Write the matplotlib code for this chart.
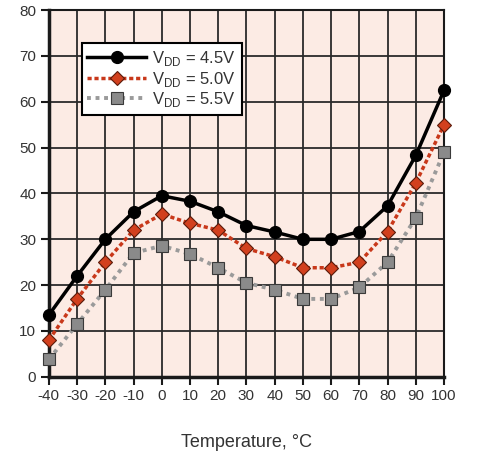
import matplotlib
matplotlib.use("Agg")
import matplotlib.pyplot as plt

# temperature in degC
temps = [-40, -30, -20, -10, 0, 10, 20, 30, 40, 50, 60, 70, 80, 90, 100]

# one series per supply voltage
vdd_45 = [13.5, 22, 30, 36, 39.5, 38.3, 36, 33, 31.6, 30, 30, 31.7, 37.3, 48.3, 62.5]
vdd_50 = [8, 17, 25, 32, 35.5, 33.5, 32, 28, 26.2, 23.8, 23.8, 25, 31.7, 42.3, 55]
vdd_55 = [3.8, 11.5, 19, 27, 28.6, 26.8, 23.8, 20.5, 19, 17, 17, 19.5, 25, 34.7, 49]

labels = ["V$_\\mathregular{DD}$ = 4.5V", "V$_\\mathregular{DD}$ = 5.0V", "V$_\\mathregular{DD}$ = 5.5V"]
y_ticks = [0, 10, 20, 30, 40, 50, 60, 70, 80]

plt.rcParams['font.family'] = ['Liberation Sans', 'DejaVu Sans']
text_col = '#333333'

fig = plt.figure(figsize=(4.79, 4.59), dpi=100)
ax = fig.add_axes([0.102, 0.179, 0.825, 0.799])
ax.set_facecolor('#fcebe4')

ax.set_xlim(-40, 100)
ax.set_ylim(0, 80)
ax.set_xticks(temps)
ax.set_yticks(y_ticks)
ax.grid(True, color='#2a2a2a', linewidth=1.3)
ax.set_axisbelow(True)

for side in ['left', 'bottom', 'right', 'top']:
    ax.spines[side].set_color('#1a1a1a')
    ax.spines[side].set_linewidth(1.5)
ax.spines['left'].set_linewidth(2.5)
ax.spines['bottom'].set_linewidth(2.5)

ax.tick_params(direction='out', length=6, width=1.5, colors='#1a1a1a',
               labelsize=11, labelcolor=text_col, pad=3)
ax.set_xticklabels([str(t) for t in temps])
ax.set_xlabel('Temperature, °C', fontsize=13, color=text_col, labelpad=22)

ax.plot(temps, vdd_45, '-', color='black', linewidth=2.5, marker='o',
        markersize=8.5, markerfacecolor='black', markeredgecolor='black',
        label=labels[0], clip_on=False, zorder=5)
ax.plot(temps, vdd_50, linestyle=(0, (1.2, 0.8)), color='#c8381a', linewidth=2.5,
        marker='D', markersize=7.5, markerfacecolor='#d2401e', markeredgecolor='#5a1a0a',
        markeredgewidth=0.8, label=labels[1], clip_on=False, zorder=4)
ax.plot(temps, vdd_55, linestyle=(0, (1, 1.2)), color='#9a9a9a', linewidth=2.8,
        marker='s', markersize=8.5, markerfacecolor='#8a8a8a', markeredgecolor='#3a3a3a',
        markeredgewidth=0.8, label=labels[2], clip_on=False, zorder=3)

leg = ax.legend(loc='upper left', bbox_to_anchor=(0.083, 0.91), fontsize=12,
                frameon=True, fancybox=False, framealpha=1, edgecolor='black',
                handlelength=3.5, borderpad=0.35, labelspacing=0.1, handletextpad=0.4,
                borderaxespad=0)
leg.get_frame().set_linewidth(1.5)
for t in leg.get_texts():
    t.set_color(text_col)

fig.savefig('out.png', dpi=100)
